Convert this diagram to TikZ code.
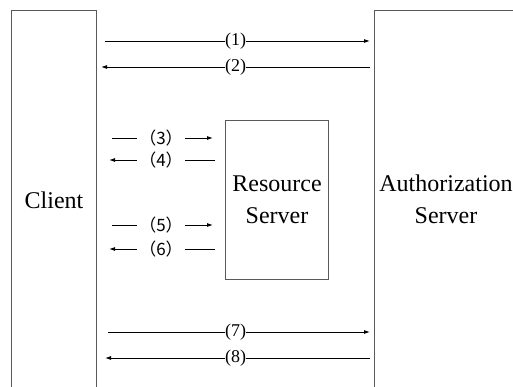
\documentclass[tikz,border=0pt]{standalone}
\usepackage{fontspec}
\setmainfont{Liberation Serif}
\newfontfamily\cjk{Noto Sans CJK SC}
\usetikzlibrary{arrows.meta}
\begin{document}
\begin{tikzpicture}[
        x=1pt, y=-1pt,
        box/.style={draw=black!65, line width=1pt, rectangle, inner sep=0pt, anchor=north west, align=center, font=\fontsize{24}{32}\selectfont},
        arr/.style={draw, line width=0.9pt, -{Latex[length=6pt,width=4pt]}},
        num/.style={fill=white, inner sep=0pt, font=\fontsize{18}{20}\selectfont},
        cnum/.style={fill=white, inner xsep=2pt, inner ysep=0pt, font=\fontsize{17}{20}\selectfont},
    ]
    \useasboundingbox (0,0) rectangle (513,387);
    \clip (0,0) rectangle (513,387);
    \node[box, minimum width=85pt, minimum height=380pt](client) at (11,10){Client};
    \node[box, minimum width=150pt, minimum height=380pt](auth) at (374,10){};
    \node[align=center, inner sep=0pt, text width=134pt, font=\fontsize{24}{32}\selectfont](authtxt) at (446,199){Authorization\\Server};
    \node[box, minimum width=103pt, minimum height=159pt](res) at (225,120){Resource\\Server};
    % client <-> authorization server
    \draw[arr, shorten <=8pt, shorten >=4pt] (client.east |- 0,41) -- node[num]{(1)} (auth.west |- 0,41);
    \draw[arr, shorten <=4pt, shorten >=4pt] (auth.west |- 0,67) -- node[num]{(2)} (client.east |- 0,67);
    % client <-> resource server
    \draw[arr, shorten <=15pt, shorten >=12pt] (client.east |- 0,138) -- node[cnum]{\cjk{（}3\cjk{）}} (res.west |- 0,138);
    \draw[arr, shorten <=10pt, shorten >=12pt] (res.west |- 0,160) -- node[cnum]{\cjk{（}4\cjk{）}} (client.east |- 0,160);
    \draw[arr, shorten <=15pt, shorten >=12pt] (client.east |- 0,225) -- node[cnum]{\cjk{（}5\cjk{）}} (res.west |- 0,225);
    \draw[arr, shorten <=10pt, shorten >=12pt] (res.west |- 0,249) -- node[cnum]{\cjk{（}6\cjk{）}} (client.east |- 0,249);
    % client <-> authorization server again
    \draw[arr, shorten <=11pt, shorten >=4pt] (client.east |- 0,332) -- node[num]{(7)} (auth.west |- 0,332);
    \draw[arr, shorten <=4pt, shorten >=8pt] (auth.west |- 0,358) -- node[num]{(8)} (client.east |- 0,358);
\end{tikzpicture}
\end{document}
